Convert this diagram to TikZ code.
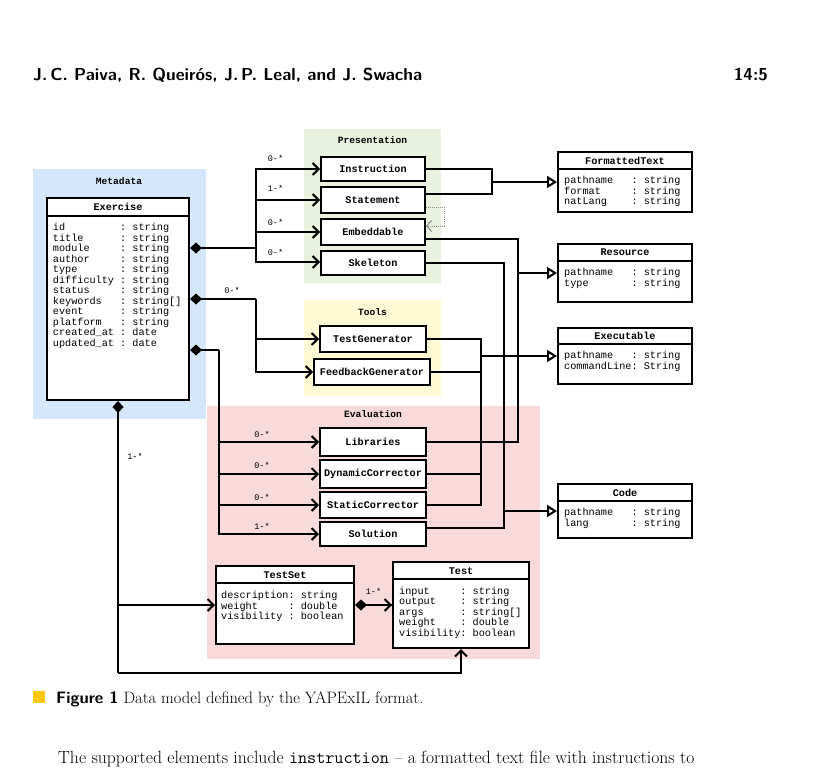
\documentclass[tikz,border=0pt]{standalone}
\usepackage{fontspec}
\newfontfamily\cour{Liberation Mono}
\usetikzlibrary{arrows.meta,calc}
\definecolor{metabg}{RGB}{212,231,252}
\definecolor{presbg}{RGB}{232,242,222}
\definecolor{toolbg}{RGB}{255,249,214}
\definecolor{evalbg}{RGB}{248,218,218}
\definecolor{capyel}{RGB}{252,199,18}
\newcommand\mtr{\fontsize{10.2}{10.3}\cour}
\newcommand\mtb{\fontsize{10.2}{10.3}\cour\bfseries}
\newcommand\attrs[1]{\begin{tabular}[t]{@{}l@{}}#1\end{tabular}}
\tikzset{
  bx/.style={draw, line width=2pt, fill=white, inner sep=0pt, font=\mtb},
  cls/.style={draw, line width=2pt, fill=white, inner sep=0pt},
  ttl/.style={font=\mtb, inner sep=0pt},
  grp/.style={font=\fontsize{9.6}{10}\cour\bfseries, inner sep=0pt},
  att/.style={font=\mtr, inner sep=0pt, anchor=base west},
  mult/.style={font=\fontsize{8.6}{9}\cour, inner sep=0pt},
  ln/.style={line width=2pt},
  arr/.style={line width=2pt, -{Straight Barb[length=6pt,width=12pt]}},
  diam/.style={line width=2pt, {Diamond[length=12pt,width=11pt]}-},
  gen/.style={line width=2pt, -{Triangle[length=10pt,width=12pt,fill=white]}},
  dep/.style={line width=1pt, densely dotted, black!45, -{Straight Barb[length=5pt,width=11pt]}}
}
\begin{document}
\begin{tikzpicture}[x=1pt,y=-1pt]
\useasboundingbox (0,0) rectangle (813,773);
\fill[white] (0,0) rectangle (813,773);
% header
\node[anchor=base west, inner sep=0pt, font=\fontsize{17.3}{19}\sffamily\bfseries] (hdr) at (33,81) {J.\,C. Paiva, R. Queirós, J.\,P. Leal, and J. Swacha};
\node[anchor=base east, inner sep=0pt, font=\fontsize{17.3}{19}\sffamily\bfseries] (pg) at (768,81) {14:5};
% backgrounds
\fill[metabg] (33,169) rectangle (206,419);
\fill[presbg] (304,129) rectangle (441,283);
\fill[toolbg] (304,300) rectangle (441,396);
\fill[evalbg] (207,405.5) rectangle (539.5,658.5);
\node[grp] (gmeta) at (119,181.3) {Metadata};
\node[grp] (gpres) at (372.5,140.3) {Presentation};
\node[grp] (gtool) at (372.5,312.5) {Tools};
\node[grp] (geval) at (373,414.3) {Evaluation};
% Exercise
\node[cls, minimum width=142, minimum height=202] (ex) at (118,299) {};
\draw[line width=2pt] ($(ex.north west)+(0,19)$) -- ($(ex.north east)+(0,19)$);
\node[ttl] (ext) at (118,207.3) {Exercise};
\node[att] (exa) at (52.7,230.8) {\attrs{id~~~~~~~~~:~string\\title~~~~~~:~string\\module~~~~~:~string\\author~~~~~:~string\\type~~~~~~~:~string\\difficulty~:~string\\status~~~~~:~string\\keywords~~~:~string[]\\event~~~~~~:~string\\platform~~~:~string\\created\_at~:~date\\updated\_at~:~date}};
% presentation boxes
\node[bx, minimum width=104, minimum height=24] (instr) at (373,169) {Instruction};
\node[bx, minimum width=104, minimum height=26] (stmt) at (373,200) {Statement};
\node[bx, minimum width=104, minimum height=26] (emb) at (373,232) {Embeddable};
\node[bx, minimum width=104, minimum height=24] (skel) at (373,263) {Skeleton};
% tools boxes
\node[bx, minimum width=106, minimum height=26] (tgen) at (373,339) {TestGenerator};
\node[bx, minimum width=116, minimum height=26] (fgen) at (372,372) {FeedbackGenerator};
% evaluation boxes
\node[bx, minimum width=106, minimum height=28] (lib) at (373,442) {Libraries};
\node[bx, minimum width=106, minimum height=28] (dyn) at (373,474) {DynamicCorrector};
\node[bx, minimum width=106, minimum height=26] (stat) at (373,505) {StaticCorrector};
\node[bx, minimum width=106, minimum height=24] (sol) at (373,534) {Solution};
% right classes
\node[cls, minimum width=134, minimum height=60] (ft) at (625,182) {};
\draw[line width=2pt] ($(ft.north west)+(0,18)$) -- ($(ft.north east)+(0,18)$);
\node[ttl] (ftt) at (625,160.5) {FormattedText};
\node[att] (fta) at (564,183.8) {\attrs{pathname~~~:~string\\format~~~~~:~string\\natLang~~~~:~string}};
\node[cls, minimum width=134, minimum height=58] (res) at (625,273) {};
\draw[line width=2pt] ($(res.north west)+(0,18)$) -- ($(res.north east)+(0,18)$);
\node[ttl] (rest) at (625,252.3) {Resource};
\node[att] (resa) at (564,275.8) {\attrs{pathname~~~:~string\\type~~~~~~~:~string}};
\node[cls, minimum width=134, minimum height=56] (exe) at (625,356) {};
\draw[line width=2pt] ($(exe.north west)+(0,17)$) -- ($(exe.north east)+(0,17)$);
\node[ttl] (exet) at (625,335.5) {Executable};
\node[att] (exea) at (564,358.8) {\attrs{pathname~~~:~string\\commandLine:~String}};
\node[cls, minimum width=134, minimum height=54] (code) at (625,511) {};
\draw[line width=2pt] ($(code.north west)+(0,18)$) -- ($(code.north east)+(0,18)$);
\node[ttl] (codet) at (625,492.7) {Code};
\node[att] (codea) at (564,515.8) {\attrs{pathname~~~:~string\\lang~~~~~~~:~string}};
% TestSet and Test
\node[cls, minimum width=138, minimum height=78] (ts) at (285,605) {};
\draw[line width=2pt] ($(ts.north west)+(0,18)$) -- ($(ts.north east)+(0,18)$);
\node[ttl] (tst) at (285,575) {TestSet};
\node[att] (tsa) at (221,598.8) {\attrs{description:~string\\weight~~~~~:~double\\visibility~:~boolean}};
\node[cls, minimum width=136, minimum height=86] (test) at (461,605) {};
\draw[line width=2pt] ($(test.north west)+(0,18)$) -- ($(test.north east)+(0,18)$);
\node[ttl] (testt) at (461,570.7) {Test};
\node[att] (testa) at (399,594.1) {\attrs{input~~~~~:~string\\output~~~~:~string\\args~~~~~~:~string[]\\weight~~~~:~double\\visibility:~boolean}};
% composition: presentation
\coordinate (p1) at (256,248);
\draw[diam] (ex.east |- p1) -- (p1);
\draw[arr] (p1) |- (instr.west);
\draw[arr] (p1) |- (stmt.west);
\draw[arr] (p1) |- (emb.west);
\draw[arr] (p1) |- ($(skel.west)+(0,-1)$);
\node[mult] (m1) at (275.5,158.3) {0-*};
\node[mult] (m2) at (275.5,188.3) {1-*};
\node[mult] (m3) at (275.5,222.8) {0-*};
\node[mult] (m4) at (275.5,252.7) {0-*};
% composition: tools
\coordinate (p2) at (256,299);
\draw[diam] (ex.east |- p2) -- (p2);
\draw[arr] (p2) |- (tgen.west);
\draw[arr] (p2) |- (fgen.west);
\node[mult] (m5) at (232,290) {0-*};
% composition: evaluation
\coordinate (p3) at (219,350);
\draw[diam] (ex.east |- p3) -- (p3);
\draw[arr] (p3) |- (lib.west);
\draw[arr] (p3) |- (dyn.west);
\draw[arr] (p3) |- (stat.west);
\draw[arr] (p3) |- (sol.west);
\node[mult] (m6) at (262,434) {0-*};
\node[mult] (m7) at (262,465) {0-*};
\node[mult] (m8) at (262,497.5) {0-*};
\node[mult] (m9) at (262,526) {1-*};
% composition: tests
\coordinate (p4) at (118,605);
\coordinate (p5) at (118,673);
\draw[diam] (ex.south) -- (p5);
\draw[arr] (p4) -- (ts.west);
\draw[arr] (p5) -| (test.south);
\draw[diam] (ts.east) -- (test.west);
\draw[arr] ($(ts.east)+(10,0)$) -- (test.west);
\node[mult] (m10) at (135,456) {1-*};
\node[mult] (m11) at (373.5,591.5) {1-*};
% generalizations
\coordinate (g1) at (492,182);
\draw[ln] (instr.east) -| (g1);
\draw[ln] ($(stmt.east)+(0,-6)$) -| (g1);
\draw[gen] (g1) -- (g1 -| ft.west);
\coordinate (dd) at (444,216);
\draw[dep] ($(stmt.east)+(0,7)$) -| (dd) |- ($(emb.east)+(0,-6)$);
\coordinate (g2) at (518,273);
\draw[ln] ($(emb.east)+(0,7)$) -| (g2) |- (lib.east);
\draw[gen] (g2) -- (g2 -| res.west);
\coordinate (g3) at (481,356);
\draw[ln] (tgen.east) -| (g3) |- (stat.east);
\draw[ln] (fgen.east) -- (fgen.east -| g3);
\draw[ln] (dyn.east) -- (dyn.east -| g3);
\draw[gen] (g3) -- (g3 -| exe.west);
\coordinate (g4) at (504,511);
\draw[ln] (skel.east) -| (g4) |- ($(sol.east)+(0,-6)$);
\draw[gen] (g4) -- (g4 -| code.west);
% caption
\fill[capyel] (33,691) rectangle (45,703);
\node[anchor=base west, inner sep=0pt, font=\fontsize{16.5}{18}\selectfont] (cap) at (56,703.5) {{\sffamily\bfseries Figure 1} Data model defined by the YAPExIL format.};
% body text
\node[anchor=base west, inner sep=0pt, font=\fontsize{17.65}{19}\selectfont] (body) at (58,763) {The supported elements include \texttt{instruction} -- a formatted text file with instructions to};
\end{tikzpicture}
\end{document}
